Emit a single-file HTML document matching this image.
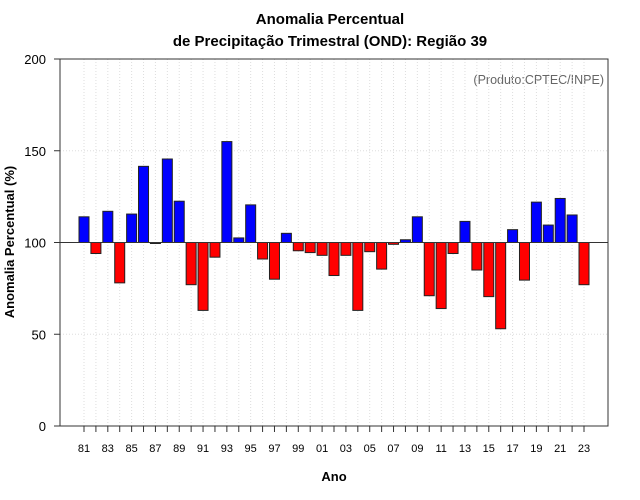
<!DOCTYPE html>
<html><head><meta charset="utf-8"><style>body{margin:0;background:#fff}svg{display:block;font-family:"Liberation Sans",sans-serif}</style></head>
<body>
<svg id="c" width="640" height="500">
<text x="330" y="24" text-anchor="middle" font-size="15" font-weight="bold">Anomalia Percentual</text>
<text x="330" y="46" text-anchor="middle" font-size="15" font-weight="bold">de Precipitação Trimestral (OND): Região 39</text>
<text x="604" y="84" text-anchor="end" font-size="12.5" fill="#666">(Produto:CPTEC/INPE)</text>
<text x="334" y="481" text-anchor="middle" font-size="13" font-weight="bold">Ano</text>
<text transform="translate(14,242) rotate(-90)" text-anchor="middle" font-size="13" font-weight="bold">Anomalia Percentual (%)</text>
<g id="grid"></g><g id="bars"></g><g id="axes"></g>
</svg>
<script>
const years = [1981,1982,1983,1984,1985,1986,1987,1988,1989,1990,1991,1992,1993,1994,1995,1996,1997,1998,1999,2000,2001,2002,2003,2004,2005,2006,2007,2008,2009,2010,2011,2012,2013,2014,2015,2016,2017,2018,2019,2020,2021,2022,2023];
const values = [114,94,117,78,115.5,141.5,99.5,145.5,122.5,77,63,92,155,102.5,120.5,91,80,105,95.5,94.5,93,82,93,63,95,85.5,99,101.5,114,71,64,94,111.5,85,70.5,53,107,79.5,122,109.5,124,115,77];
const yTicks = [0,50,100,150,200];
const NS='http://www.w3.org/2000/svg';
const x0=60,x1=608,yTop=59,yBot=426;
const xs=i=>84+i*11.905;
const ys=v=>yBot-(v/200)*(yBot-yTop);
function mk(t,a,p){const e=document.createElementNS(NS,t);for(const k in a)e.setAttribute(k,a[k]);p.appendChild(e);return e;}
const g=document.getElementById('grid'),b=document.getElementById('bars'),ax=document.getElementById('axes');
years.forEach((y,i)=>{
  const l=mk('line',{x1:xs(i),x2:xs(i),y1:yTop,y2:yBot,stroke:'#ddd','stroke-dasharray':'1,2'},g);
  
  
});
yTicks.forEach(v=>{
  if(v>0&&v<200){const l=mk('line',{x1:x0,x2:x1,y1:ys(v),y2:ys(v),stroke:'#ddd','stroke-dasharray':'1,2'},g);
  
  }
  const t=mk('line',{x1:x0-6,x2:x0,y1:ys(v),y2:ys(v),stroke:'#333'},ax);
  
  
  const tx=mk('text',{x:x0-14,y:ys(v)+5,'text-anchor':'end','font-size':'13'},ax);tx.textContent=v;
  
  
});
values.forEach((v,i)=>{
  const top=Math.min(ys(v),ys(100)),h=Math.abs(ys(v)-ys(100));
  const r=mk('rect',{x:xs(i)-5,y:top,width:10,height:Math.max(h,1),fill:v>=100?'#0000ff':'#ff0000',stroke:'#222','stroke-width':1},b);
  
  
});
const base=mk('line',{x1:x0,x2:x1,y1:ys(100),y2:ys(100),stroke:'#333'},ax);


const fr=mk('rect',{x:x0,y:yTop,width:x1-x0,height:yBot-yTop,fill:'none',stroke:'#333'},ax);


years.forEach((y,i)=>{
  const t=mk('line',{x1:xs(i),x2:xs(i),y1:yBot,y2:yBot+6,stroke:'#333'},ax);
  
  
  if(i%2===0){const tx=mk('text',{x:xs(i),y:452,'text-anchor':'middle','font-size':'11'},ax);tx.textContent=String(y%100).padStart(2,'0');
  
  }
});
</script>
</body></html>
